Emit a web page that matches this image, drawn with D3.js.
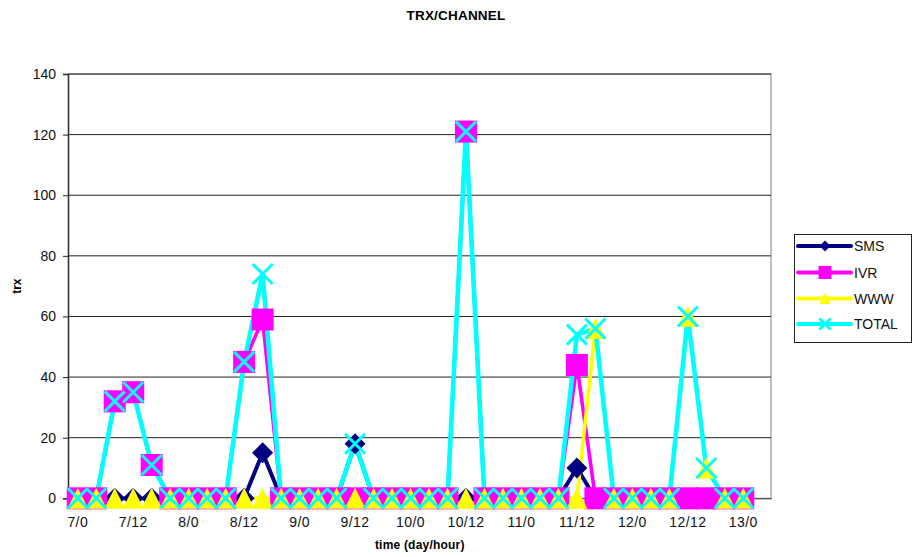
<!DOCTYPE html>
<html>
<head>
<meta charset="utf-8">
<script src="https://cdn.jsdelivr.net/npm/d3@7"></script>
<style>
  body { margin: 0; background: #fff; }
  svg { display: block; font-family: Arial, "Liberation Sans", sans-serif; }
</style>
</head>
<body>
<svg id="chart" width="913" height="557"></svg>
<script>
// Time slots (day/hour), one every 4 hours
const categories = [
  "7/0","7/4","7/8","7/12","7/16","7/20",
  "8/0","8/4","8/8","8/12","8/16","8/20",
  "9/0","9/4","9/8","9/12","9/16","9/20",
  "10/0","10/4","10/8","10/12","10/16","10/20",
  "11/0","11/4","11/8","11/12","11/16","11/20",
  "12/0","12/4","12/8","12/12","12/16","12/20",
  "13/0","13/4"
];
const xTickLabels = ["7/0","7/12","8/0","8/12","9/0","9/12","10/0","10/12","11/0","11/12","12/0","12/12","13/0"];
const yTicks = [0, 20, 40, 60, 80, 100, 120, 140];

// Transactions per channel
const sms   = [0,0,0,0,0,0, 0,0,0,0,15,0, 0,0,0,18,0,0, 0,0,0,0,0,0,   0,0,0,10,0,0, 0,0,0,0,0,0, 0];
const ivr   = [0,0,32,35,11,0, 0,0,0,45,59,0, 0,0,0,0,0,0, 0,0,0,121,0,0, 0,0,0,44,0,0, 0,0,0,0,0,0, 0];
const www   = [0,0,0,0,0,0, 0,0,0,0,0,0, 0,0,0,0,0,0, 0,0,0,0,0,0,      0,0,0,0,56,0, 0,0,0,60,10,0, 0];
const total = [0,0,32,35,11,0, 0,0,0,45,74,0, 0,0,0,18,0,0, 0,0,0,121,0,0, 0,0,0,54,56,0, 0,0,0,60,10,0, 0];

const seriesNames = ["SMS", "IVR", "WWW", "TOTAL"];
const seriesValues = [sms, ivr, www, total];

const style = {
  SMS:   { color: "#000080", width: 4,   marker: "diamond" },
  IVR:   { color: "#FF00FF", width: 3.6, marker: "square" },
  WWW:   { color: "#FFFF00", width: 3.6, marker: "triangle" },
  TOTAL: { color: "#00FFFF", width: 4.6, marker: "cross" }
};

const plot = { left: 68.5, right: 771, top: 74, bottom: 498.3 };

const svg = d3.select("#chart");

const x = d3.scaleBand().domain(categories).range([plot.left, plot.right]).paddingInner(0).paddingOuter(0);
const y = d3.scaleLinear().domain([0, 140]).range([plot.bottom, plot.top]);
const cx = c => x(c) + x.bandwidth() / 2;

// Plot frame
svg.append("rect")
  .attr("x", plot.left).attr("y", plot.top)
  .attr("width", plot.right - plot.left).attr("height", plot.bottom - plot.top)
  .attr("fill", "none").attr("stroke", "#808080").attr("stroke-width", 1);

// Horizontal gridlines
svg.append("g").selectAll("line")
  .data(yTicks.filter(t => t > 0))
  .join("line")
  .attr("x1", plot.left).attr("x2", plot.right)
  .attr("y1", d => y(d)).attr("y2", d => y(d))
  .attr("stroke", "#222").attr("stroke-width", 1);

// Y axis
const yAxis = svg.append("g")
  .attr("transform", `translate(${plot.left - 0.5},0)`)
  .call(d3.axisLeft(y).tickValues(yTicks).tickSize(5).tickPadding(7).tickFormat(d3.format("d")));
yAxis.select(".domain").attr("stroke", "#333").attr("stroke-width", 1.6);
yAxis.selectAll(".tick line").attr("stroke", "#222");
yAxis.selectAll(".tick text").attr("font-size", 14).attr("fill", "#111").attr("font-family", "Arial, 'Liberation Sans', sans-serif");

// X axis
const xAxis = svg.append("g")
  .attr("transform", `translate(0,${plot.bottom})`)
  .call(d3.axisBottom(x).tickValues(xTickLabels).tickSize(0).tickPadding(19));
xAxis.select(".domain").attr("stroke", "#333").attr("stroke-width", 1);
xAxis.selectAll(".tick text").attr("font-size", 14).attr("fill", "#111")
  .attr("letter-spacing", 0.4).attr("font-family", "Arial, 'Liberation Sans', sans-serif");

// Marker shapes
function markerPath(kind, s) {
  const h = s / 2;
  if (kind === "diamond") return `M0,${-h}L${h},0L0,${h}L${-h},0Z`;
  if (kind === "square") return `M${-h},${-h}H${h}V${h}H${-h}Z`;
  if (kind === "triangle") return `M0,${-h}L${h},${h}L${-h},${h}Z`;
  return `M${-h},${-h}L${h},${h}M${h},${-h}L${-h},${h}`;
}
function drawMarker(g, kind, color, s) {
  const p = g.append("path").attr("d", markerPath(kind, s));
  if (kind === "cross") p.attr("fill", "none").attr("stroke", color).attr("stroke-width", 3);
  else p.attr("fill", color);
  return p;
}
const markerSize = { diamond: 21, square: 22, triangle: 21, cross: 20 };

const line = d3.line().x((d, i) => cx(categories[i])).y(d => y(d));

// All series lines first
seriesNames.forEach((name, k) => {
  svg.append("path")
    .datum(seriesValues[k])
    .attr("d", line)
    .attr("fill", "none")
    .attr("stroke", style[name].color)
    .attr("stroke-width", style[name].width)
    .attr("stroke-linejoin", "round");
});

// Then markers, series by series
seriesNames.forEach((name, k) => {
  const st = style[name];
  const g = svg.append("g");
  seriesValues[k].forEach((v, i) => {
    const mg = g.append("g").attr("transform", `translate(${cx(categories[i])},${y(v)})`);
    drawMarker(mg, st.marker, st.color, markerSize[st.marker]);
  });
});

// Titles
svg.append("text").attr("x", 456).attr("y", 20).attr("text-anchor", "middle")
  .attr("font-size", 13.5).attr("font-weight", "bold").attr("letter-spacing", 0.2)
  .text("TRX/CHANNEL");
svg.append("text").attr("x", (plot.left + plot.right) / 2).attr("y", 549).attr("text-anchor", "middle")
  .attr("font-size", 12).attr("font-weight", "bold").attr("letter-spacing", 0.2)
  .text("time (day/hour)");
svg.append("text").attr("transform", `translate(21,${(plot.top + plot.bottom) / 2}) rotate(-90)`)
  .attr("text-anchor", "middle").attr("font-size", 12).attr("font-weight", "bold")
  .text("trx");

// Legend
const legend = svg.append("g");
legend.append("rect").attr("x", 794.5).attr("y", 234.5).attr("width", 117).attr("height", 108)
  .attr("fill", "#fff").attr("stroke", "#222").attr("stroke-width", 1);
const legendY = [246, 272.5, 298.5, 324];
const legendMarker = { diamond: 11, square: 13, triangle: 11, cross: 11 };
seriesNames.forEach((name, k) => {
  const st = style[name];
  const ly = legendY[k];
  legend.append("line").attr("x1", 798).attr("x2", 851).attr("y1", ly).attr("y2", ly)
    .attr("stroke", st.color).attr("stroke-width", 4).attr("stroke-linecap", "round");
  const mg = legend.append("g").attr("transform", `translate(825,${ly})`);
  drawMarker(mg, st.marker, st.color, legendMarker[st.marker]);
  legend.append("text").attr("x", 854).attr("y", ly + 5).attr("font-size", 14)
    .attr("fill", "#111").text(name);
});
</script>
</body>
</html>
